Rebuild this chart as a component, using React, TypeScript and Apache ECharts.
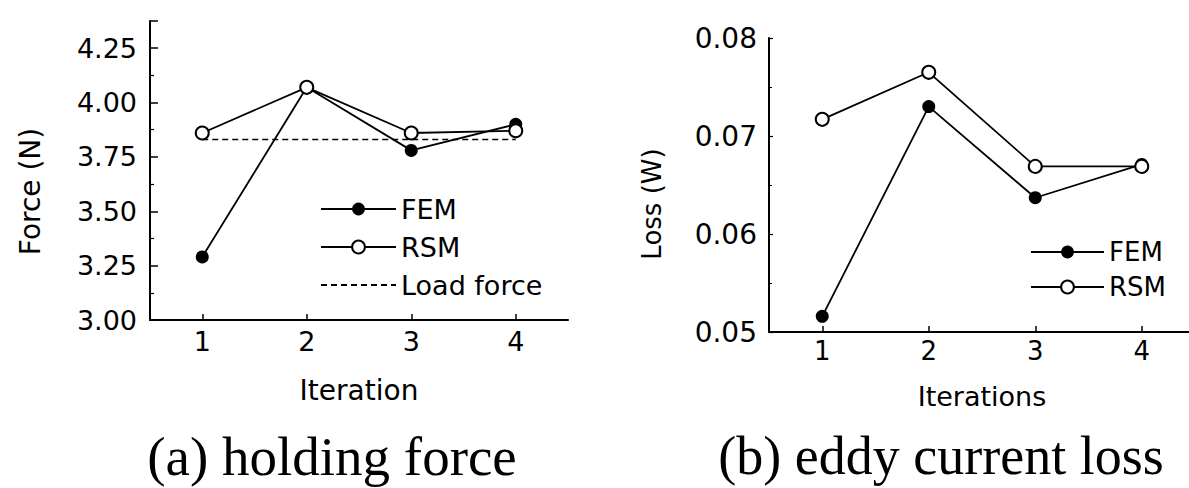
import React, { useEffect, useRef } from 'react';
import * as echarts from 'echarts';

// ---- data ----
const iterations = ['1', '2', '3', '4'];
const forceFEM = [3.29, 4.07, 3.78, 3.9];
const forceRSM = [3.86, 4.07, 3.86, 3.87];
const loadForce = [3.83, 3.83, 3.83, 3.83];
const lossFEM = [0.0516, 0.073, 0.0637, 0.0671];
const lossRSM = [0.0717, 0.0765, 0.0669, 0.0669];

// ---- axis ranges ----
const forceMin = 3.0;
const forceMax = 4.375;
const forceStep = 0.25;
const lossMin = 0.05;
const lossMax = 0.08;
const lossStep = 0.01;

const captions = ['(a) holding force', '(b) eddy current loss'];

const SANS = '"DejaVu Sans", sans-serif';
const SERIF = '"Liberation Serif", "Times New Roman", serif';

export default function App() {
  const ref = useRef<HTMLDivElement>(null);

  useEffect(() => {
    document.body.style.margin = '0';
    if (!ref.current) return;
    const chart = echarts.init(ref.current, undefined, { renderer: 'svg' });

    const xAxisBase = (gridIndex: number, name: string, nameGap: number, fontSize: number, margin: number) => ({
      type: 'category',
      gridIndex,
      data: iterations,
      boundaryGap: true,
      name,
      nameLocation: 'middle',
      nameGap,
      nameTextStyle: { color: '#000', fontSize: fontSize + 1, fontFamily: SANS },
      axisLine: { show: true, onZero: false, lineStyle: { color: '#000', width: 2 } },
      axisTick: { show: true, inside: true, alignWithLabel: true, length: 6, lineStyle: { color: '#000', width: 1.5 } },
      axisLabel: { color: '#000', fontSize, fontFamily: SANS, margin },
      splitLine: { show: false },
    });

    const option: any = {
      animation: false,
      backgroundColor: '#fff',
      grid: [
        { left: 150, top: 21, width: 418, height: 299, containLabel: false },
        { left: 769, top: 38, width: 426, height: 294, containLabel: false },
      ],
      xAxis: [
        xAxisBase(0, 'Iteration', 56, 27, 8),
        xAxisBase(1, 'Iterations', 51, 26, 6),
      ],
      yAxis: [
        {
          type: 'value',
          gridIndex: 0,
          min: forceMin,
          max: forceMax,
          interval: forceStep,
          name: 'Force (N)',
          nameLocation: 'middle',
          nameGap: 106,
          nameTextStyle: { color: '#000', fontSize: 28, fontFamily: SANS, padding: [0, 42, 0, 0] },
          axisLine: { show: true, lineStyle: { color: '#000', width: 2 } },
          axisTick: { show: true, inside: true, length: 8, lineStyle: { color: '#000', width: 1.5 } },
          minorTick: { show: true, splitNumber: 2, length: 4, lineStyle: { color: '#000', width: 1.2 } },
          axisLabel: {
            color: '#000',
            fontSize: 27,
            fontFamily: SANS,
            margin: 13,
            showMaxLabel: false,
            formatter: (v: number) => v.toFixed(2),
          },
          splitLine: { show: false },
          minorSplitLine: { show: false },
        },
        {
          type: 'value',
          gridIndex: 1,
          min: lossMin,
          max: lossMax,
          interval: lossStep,
          name: 'Loss (W)',
          nameLocation: 'middle',
          nameGap: 104,
          nameTextStyle: { color: '#000', fontSize: 26, fontFamily: SANS, padding: [0, 38, 0, 0] },
          axisLine: { show: true, lineStyle: { color: '#000', width: 2 } },
          axisTick: { show: true, inside: true, length: 4, lineStyle: { color: '#000', width: 1.2 } },
          minorTick: { show: true, splitNumber: 2, length: 3, lineStyle: { color: '#000', width: 1 } },
          axisLabel: {
            color: '#000',
            fontSize: 28,
            fontFamily: SANS,
            margin: 12,
            formatter: (v: number) => v.toFixed(2),
          },
          splitLine: { show: false },
          minorSplitLine: { show: false },
        },
      ],
      legend: [
        {
          orient: 'vertical',
          left: 315,
          top: 189,
          itemWidth: 75,
          itemHeight: 16,
          itemGap: 8,
          selectedMode: false,
          data: [
            'FEM',
            'RSM',
            {
              name: 'Load force',
              itemStyle: { color: 'rgba(0,0,0,0)', borderColor: 'rgba(0,0,0,0)', borderWidth: 0 },
            },
          ],
          textStyle: { color: '#000', fontSize: 27, fontFamily: SANS, lineHeight: 30 },
        },
        {
          orient: 'vertical',
          left: 1025,
          top: 233,
          itemWidth: 73,
          itemHeight: 16,
          itemGap: 7,
          selectedMode: false,
          data: ['FEM', 'RSM'],
          textStyle: { color: '#000', fontSize: 26, fontFamily: SANS, lineHeight: 28 },
        },
      ],
      series: [
        {
          name: 'Load force',
          type: 'line',
          xAxisIndex: 0,
          yAxisIndex: 0,
          data: loadForce,
          symbol: 'none',
          lineStyle: { color: '#000', width: 1.5, type: [6, 4] },
          itemStyle: { color: '#000' },
          z: 1,
        },
        {
          name: 'FEM',
          type: 'line',
          xAxisIndex: 0,
          yAxisIndex: 0,
          data: forceFEM,
          symbol: 'circle',
          symbolSize: 13,
          lineStyle: { color: '#000', width: 1.8 },
          itemStyle: { color: '#000' },
          z: 2,
        },
        {
          name: 'RSM',
          type: 'line',
          xAxisIndex: 0,
          yAxisIndex: 0,
          data: forceRSM,
          symbol: 'emptyCircle',
          symbolSize: 13,
          lineStyle: { color: '#000', width: 1.8 },
          itemStyle: { color: '#000', borderWidth: 1.5 },
          z: 3,
        },
        {
          name: 'FEM',
          type: 'line',
          xAxisIndex: 1,
          yAxisIndex: 1,
          data: lossFEM,
          symbol: 'circle',
          symbolSize: 13,
          lineStyle: { color: '#000', width: 1.8 },
          itemStyle: { color: '#000' },
          z: 2,
        },
        {
          name: 'RSM',
          type: 'line',
          xAxisIndex: 1,
          yAxisIndex: 1,
          data: lossRSM,
          symbol: 'emptyCircle',
          symbolSize: 13,
          lineStyle: { color: '#000', width: 1.8 },
          itemStyle: { color: '#000', borderWidth: 1.5 },
          z: 3,
        },
      ],
      graphic: [
        {
          type: 'text',
          x: 332,
          y: 456,
          style: {
            text: captions[0],
            fontSize: 55,
            fontFamily: SERIF,
            fill: '#000',
            align: 'center',
            verticalAlign: 'middle',
          },
        },
        {
          type: 'text',
          x: 941,
          y: 456,
          style: {
            text: captions[1],
            fontSize: 54,
            fontFamily: SERIF,
            fill: '#000',
            align: 'center',
            verticalAlign: 'middle',
          },
        },
      ],
    };

    chart.setOption(option);
    return () => {
      chart.dispose();
    };
  }, []);

  return (
    <div
      style={{
        position: 'fixed',
        left: 0,
        top: 0,
        width: 1189,
        height: 488,
        overflow: 'hidden',
        background: '#fff',
      }}
    >
      <div ref={ref} style={{ width: 1200, height: 488 }} />
    </div>
  );
}
